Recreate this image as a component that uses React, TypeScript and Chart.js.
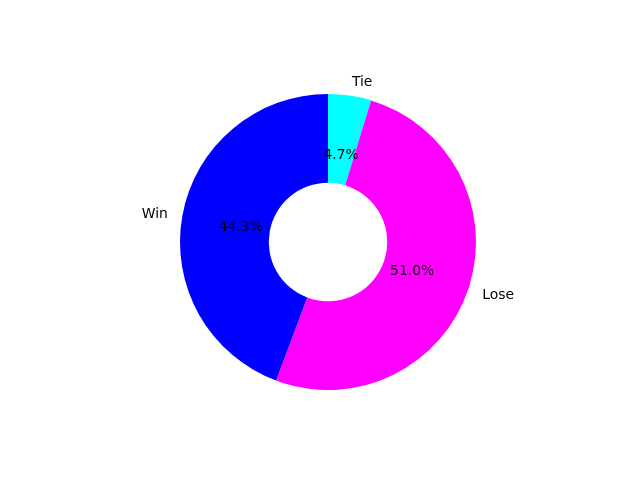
import React, { useEffect, useRef } from "react";
import { Chart, registerables } from "chart.js";

Chart.register(...registerables);

const labels = ["Tie", "Lose", "Win"];
const values = [4.7, 51.0, 44.3];
const colors = ["#00ffff", "#ff00ff", "#0000ff"];

const pieLabelsPlugin = {
  id: "pieLabels",
  afterDraw(chart: any) {
    const ctx = chart.ctx;
    const meta = chart.getDatasetMeta(0);
    const data = chart.data.datasets[0].data as number[];
    const total = data.reduce((a, b) => a + b, 0);
    ctx.save();
    ctx.font = "13.9px 'DejaVu Sans'";
    ctx.fillStyle = "#000000";
    ctx.textBaseline = "middle";
    meta.data.forEach((arc: any, i: number) => {
      const { x, y, startAngle, endAngle, outerRadius } = arc.getProps(
        ["x", "y", "startAngle", "endAngle", "outerRadius"],
        true
      );
      const mid = (startAngle + endAngle) / 2;
      const cx = Math.cos(mid);
      const cy = Math.sin(mid);
      const lx = x + cx * outerRadius * 1.1;
      const ly = y + cy * outerRadius * 1.1 + 1;
      ctx.textAlign = cx > 0 ? "left" : "right";
      ctx.fillText(chart.data.labels[i], lx, ly);
      const px = x + cx * outerRadius * 0.6;
      const py = y + cy * outerRadius * 0.6 + 1;
      ctx.textAlign = "center";
      ctx.fillText(((data[i] / total) * 100).toFixed(1) + "%", px, py);
    });
    ctx.restore();
  },
};

export default function App() {
  const ref = useRef<HTMLCanvasElement>(null);
  useEffect(() => {
    document.body.style.margin = "0";
    const chart = new Chart(ref.current!, {
      type: "doughnut",
      data: {
        labels,
        datasets: [
          {
            data: values,
            backgroundColor: colors,
            borderWidth: 0,
          },
        ],
      },
      options: {
        responsive: false,
        animation: false,
        cutout: "40%",
        rotation: 0,
        layout: { padding: { left: 180, right: 164, top: 94, bottom: 90 } },
        plugins: {
          legend: { display: false },
          tooltip: { enabled: false },
        },
      },
      plugins: [pieLabelsPlugin],
    });
    return () => chart.destroy();
  }, []);
  return (
    <div style={{ width: 640, height: 480, background: "#fff" }}>
      <canvas ref={ref} width={640} height={480} />
    </div>
  );
}
